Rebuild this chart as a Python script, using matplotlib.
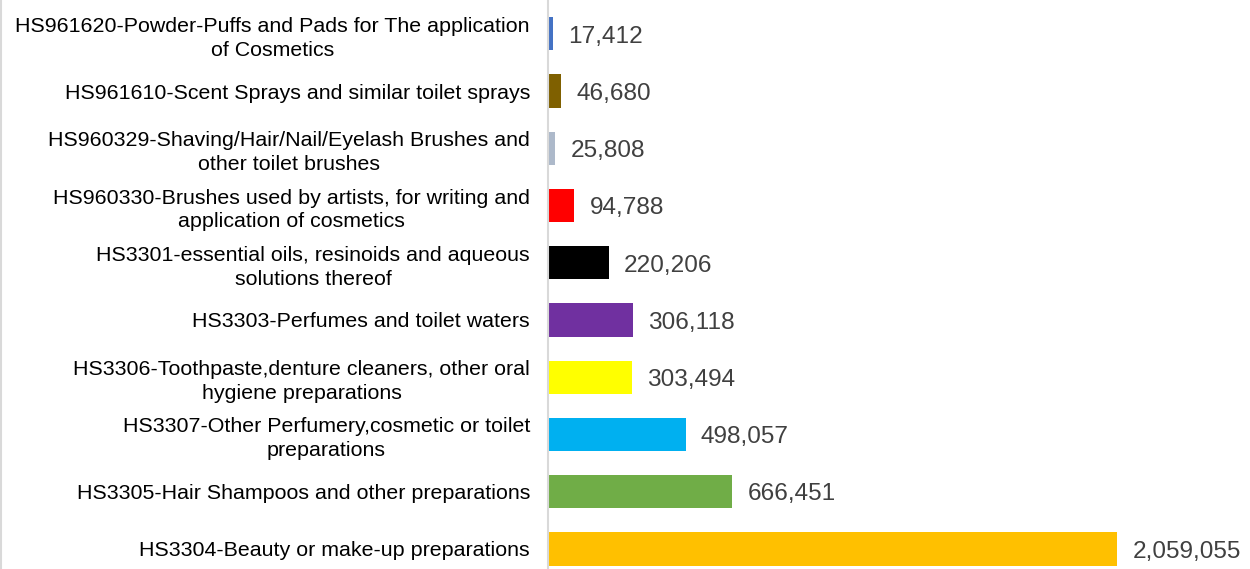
import matplotlib
matplotlib.use("Agg")
import matplotlib.pyplot as plt
from matplotlib.lines import Line2D

plt.rcParams['font.family'] = ['Liberation Sans', 'DejaVu Sans']

# top to bottom as in the chart
CATEGORIES = [
    "HS961620-Powder-Puffs and Pads for The application\nof Cosmetics",
    "HS961610-Scent Sprays and similar toilet sprays",
    "HS960329-Shaving/Hair/Nail/Eyelash Brushes and\nother toilet brushes",
    "HS960330-Brushes used by artists, for writing and\napplication of cosmetics",
    "HS3301-essential oils, resinoids and aqueous\nsolutions thereof",
    "HS3303-Perfumes and toilet waters",
    "HS3306-Toothpaste,denture cleaners, other oral\nhygiene preparations",
    "HS3307-Other Perfumery,cosmetic or toilet\npreparations",
    "HS3305-Hair Shampoos and other preparations",
    "HS3304-Beauty or make-up preparations",
]
VALUES = [17412, 46680, 25808, 94788, 220206, 306118, 303494, 498057, 666451, 2059055]
COLOURS = ["#4472C4", "#7F6000", "#ADB9CA", "#FF0000", "#000000",
           "#7030A0", "#FFFF00", "#00B0F0", "#70AD47", "#FFC000"]

fig = plt.figure(figsize=(12.5, 5.69), dpi=100)
ax = fig.add_axes([0.4384, 0, 0.5616, 1])

n = len(CATEGORIES)
positions = [n - 1 - i for i in range(n)]
bars = ax.barh(positions, VALUES, height=0.58, color=COLOURS)

ax.set_xlim(0, 2.54e6)
ax.set_ylim(-0.35, n - 1 + 0.59)
ax.set_yticks(positions)
ax.set_yticklabels(CATEGORIES, fontsize=15.4, color="black", ha="right",
                   multialignment="center", linespacing=1.32)
ax.tick_params(axis="y", length=0, pad=13)
ax.set_xticks([])

for spine in ["top", "right", "bottom"]:
    ax.spines[spine].set_visible(False)
ax.spines["left"].set_color("#d9d9d9")
ax.spines["left"].set_linewidth(1.5)

for bar, v in zip(bars, VALUES):
    ax.annotate(f"{v:,}", (bar.get_width(), bar.get_y() + bar.get_height() / 2),
                xytext=(11, -2), textcoords="offset points",
                va="center", ha="left", fontsize=17.6, color="#404040")

fig.add_artist(Line2D([0.001, 0.001], [0, 1], color="#d9d9d9", linewidth=1.5,
                      transform=fig.transFigure))

fig.savefig("out.png", dpi=100)
plt.close(fig)
